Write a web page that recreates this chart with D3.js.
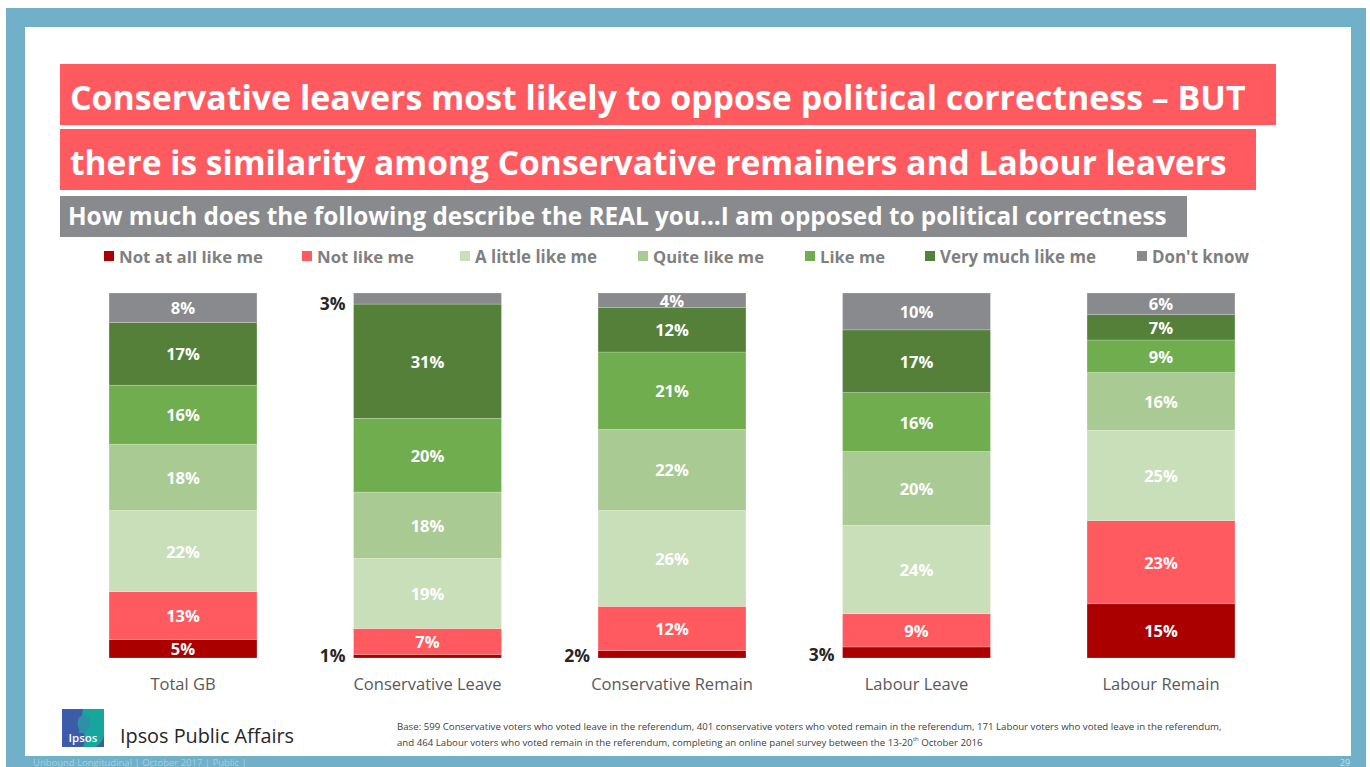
<!DOCTYPE html>
<html>
<head>
<meta charset="utf-8">
<script src="https://cdn.jsdelivr.net/npm/d3@7"></script>
<style>
  html, body { margin: 0; padding: 0; background: #fff; }
  svg { display: block; }
</style>
</head>
<body>
<svg id="chart" width="1370" height="767"></svg>
<script>
// ---- data ----
const categories = ["Total GB", "Conservative Leave", "Conservative Remain", "Labour Leave", "Labour Remain"];
const seriesNames = ["Not at all like me", "Not like me", "A little like me", "Quite like me", "Like me", "Very much like me", "Don't know"];
const notAtAllLikeMe = [5, 1, 2, 3, 15];
const notLikeMe      = [13, 7, 12, 9, 23];
const aLittleLikeMe  = [22, 19, 26, 24, 25];
const quiteLikeMe    = [18, 18, 22, 20, 16];
const likeMe         = [16, 20, 21, 16, 9];
const veryMuchLikeMe = [17, 31, 12, 17, 7];
const dontKnow       = [8, 3, 4, 10, 6];
const seriesColors = ["#AA0000", "#FF5A5F", "#C9DFB9", "#A9CB93", "#70AD4F", "#548039", "#898A8D"];

const titleLine1 = "Conservative leavers most likely to oppose political correctness \u2013 BUT";
const titleLine2 = "there is similarity among Conservative remainers and Labour leavers";
const subtitle = "How much does the following describe the REAL you\u2026I am opposed to political correctness";

const seriesValues = [notAtAllLikeMe, notLikeMe, aLittleLikeMe, quiteLikeMe, likeMe, veryMuchLikeMe, dontKnow];
const rows = categories.map((c, i) => {
  const r = { category: c };
  seriesNames.forEach((s, j) => { r[s] = seriesValues[j][i]; });
  return r;
});

const svg = d3.select("#chart");
const FONT = "'Open Sans', 'Noto Sans', sans-serif";

// fit a text element to a given width by adjusting its font size
function fitWidth(sel, target) {
  const node = sel.node();
  const fs = parseFloat(sel.attr("font-size"));
  const w = node.getComputedTextLength();
  sel.attr("font-size", (fs * target / w).toFixed(2));
}

// ---- slide frame ----
svg.append("rect").attr("x", 6).attr("y", 8).attr("width", 1360).attr("height", 759).attr("fill", "#70B0C8");
svg.append("rect").attr("x", 25).attr("y", 27).attr("width", 1326).attr("height", 729).attr("fill", "#fff");

// ---- title boxes ----
const titleBoxes = [
  { y: 64, w: 1216, h: 61, text: titleLine1, tw: 1176, color: "#FF5A5F", dy: 2 },
  { y: 129, w: 1196, h: 61, text: titleLine2, tw: 1157, color: "#FF5A5F", dy: 2 },
  { y: 196, w: 1127, h: 41, text: subtitle, tw: 1099, color: "#898A8D", dy: -1.5 }
];
titleBoxes.forEach((b, i) => {
  svg.append("rect").attr("x", 60).attr("y", b.y).attr("width", b.w).attr("height", b.h).attr("fill", b.color);
  const t = svg.append("text")
    .attr("x", i < 2 ? 70 : 68)
    .attr("y", b.y + b.h / 2 + b.dy)
    .attr("dominant-baseline", "central")
    .attr("font-family", FONT)
    .attr("font-weight", 700)
    .attr("font-size", i < 2 ? 34 : 22)
    .attr("fill", "#fff")
    .text(b.text);
  fitWidth(t, b.tw);
});

// ---- legend ----
const legendX = [104, 302, 460, 638, 805, 925, 1137];
const legendTextW = [144, 97, 122, 111, 65, 156, 97];
const legend = svg.append("g");
seriesNames.forEach((s, j) => {
  legend.append("rect").attr("x", legendX[j]).attr("y", 251).attr("width", 10).attr("height", 10).attr("fill", seriesColors[j]);
  const t = legend.append("text")
    .attr("x", legendX[j] + 15).attr("y", 256)
    .attr("dominant-baseline", "central")
    .attr("font-family", FONT).attr("font-weight", 700).attr("font-size", 17)
    .attr("fill", "#7F7F7F")
    .text(s);
  fitWidth(t, legendTextW[j]);
});

// ---- stacked bars (100% stacked) ----
const x = d3.scaleBand().domain(categories).range([60.75, 1283.25]).paddingInner(0.395).paddingOuter(0.1975);
const y = d3.scaleLinear().domain([0, 1]).range([658, 293]);
const stack = d3.stack().keys(seriesNames).offset(d3.stackOffsetExpand);
const stacked = stack(rows);

const bars = svg.append("g");
stacked.forEach((layer, j) => {
  bars.selectAll(null).data(layer).enter().append("rect")
    .attr("x", d => x(d.data.category))
    .attr("y", d => y(d[1]))
    .attr("width", x.bandwidth())
    .attr("height", d => y(d[0]) - y(d[1]))
    .attr("fill", seriesColors[j])
    .attr("stroke", "#fff").attr("stroke-opacity", 0.35).attr("stroke-width", 0.6);
});

// value labels: inside for larger segments, outside-left for the thin ones
const labels = svg.append("g");
stacked.forEach((layer, j) => {
  const key = layer.key;
  layer.forEach(d => {
    const v = d.data[key];
    const cy = (y(d[0]) + y(d[1])) / 2;
    if (v >= 4) {
      labels.append("text")
        .attr("x", x(d.data.category) + x.bandwidth() / 2)
        .attr("y", cy)
        .attr("text-anchor", "middle").attr("dominant-baseline", "central")
        .attr("font-family", FONT).attr("font-weight", 700).attr("font-size", 16.5)
        .attr("fill", "#fff")
        .text(v + "%");
    } else {
      const ly = Math.min(Math.max(cy + 2, 303), 655);
      labels.append("text")
        .attr("x", x(d.data.category) - 8)
        .attr("y", ly)
        .attr("text-anchor", "end").attr("dominant-baseline", "central")
        .attr("font-family", FONT).attr("font-weight", 700).attr("font-size", 17.5)
        .attr("fill", "#262626")
        .text(v + "%");
    }
  });
});

// category axis
const xAxis = svg.append("g").attr("transform", "translate(0,658)")
  .call(d3.axisBottom(x).tickSize(0).tickPadding(20));
xAxis.select(".domain").remove();
xAxis.selectAll("text")
  .attr("font-family", FONT).attr("font-size", 16.5).attr("fill", "#595959");

// ---- footer ----
const logo = svg.append("g").attr("transform", "translate(62,709)");
logo.append("rect").attr("width", 42).attr("height", 38).attr("fill", "#3C5BA9");
logo.append("path").attr("d", "M21,0 L42,0 L42,26 Q41,34 33,38 L21,38 Q25,30 21,22 Q18,14 21,0 Z").attr("fill", "#17A69C");
logo.append("path").attr("d", "M16,18 Q14,8 21,6 Q28,6 28,13 Q29,16 27,17 Q27,21 24,21 L24,24 L17,24 Q18,21 16,18 Z").attr("fill", "#2E8FA6");
logo.append("text").attr("x", 21).attr("y", 33).attr("text-anchor", "middle")
  .attr("font-family", FONT).attr("font-weight", 600).attr("font-size", 11.5).attr("fill", "#fff").text("Ipsos");

const brand = svg.append("text").attr("x", 120).attr("y", 735).attr("dominant-baseline", "central")
  .attr("font-family", FONT).attr("font-weight", 500).attr("font-size", 19).attr("fill", "#262626").text("Ipsos Public Affairs");
fitWidth(brand, 174);

const foot1 = svg.append("text").attr("x", 397).attr("y", 726).attr("dominant-baseline", "central")
  .attr("font-family", FONT).attr("font-size", 9).attr("fill", "#404040")
  .text("Base: 599 Conservative voters who voted leave in the referendum, 401 conservative voters who voted remain in the referendum, 171 Labour voters who voted leave in the referendum,");
fitWidth(foot1, 826);
const foot2 = svg.append("text").attr("x", 397).attr("y", 742).attr("dominant-baseline", "central")
  .attr("font-family", FONT).attr("font-size", foot1.attr("font-size")).attr("fill", "#404040");
foot2.append("tspan").text("and 464 Labour voters who voted remain in the referendum, completing an online panel survey between the 13-20");
foot2.append("tspan").attr("font-size", 6).attr("dy", -3).text("th");
foot2.append("tspan").attr("dy", 3).text(" October 2016");

const strap = svg.append("text").attr("x", 33).attr("y", 762).attr("dominant-baseline", "central")
  .attr("font-family", FONT).attr("font-size", 8).attr("fill", "#A6D0DE")
  .text("Unbound Longitudinal |  October 2017 |  Public  |");
fitWidth(strap, 214);
svg.append("text").attr("x", 1345).attr("y", 762).attr("text-anchor", "middle").attr("dominant-baseline", "central")
  .attr("font-family", FONT).attr("font-size", 9).attr("fill", "#C4E0EA").text("29");
</script>
</body>
</html>
